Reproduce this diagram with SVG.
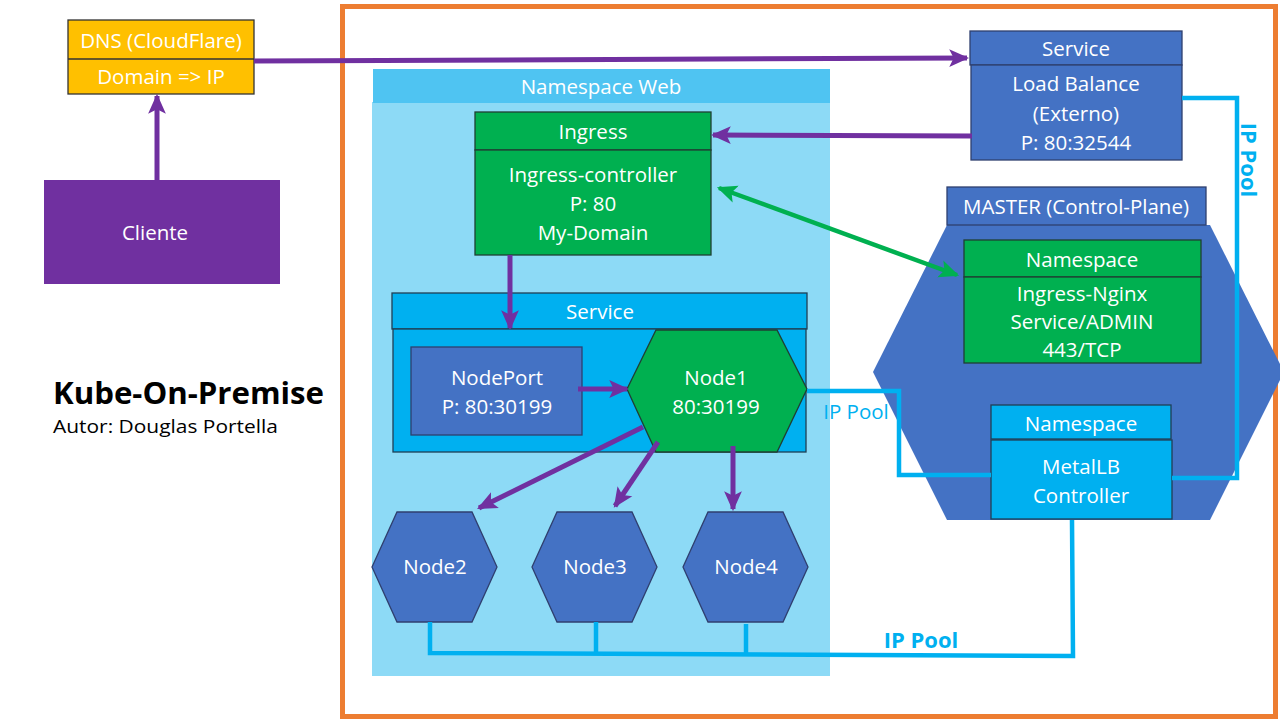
<svg xmlns="http://www.w3.org/2000/svg" width="1280" height="720" viewBox="0 0 1280 720">
<defs>
<style>
text{font-family:"Open Sans","Noto Sans","Liberation Sans",sans-serif;fill:#fff;font-size:20.5px;text-anchor:middle;dominant-baseline:central}
.blue{fill:#4472C4;stroke:#2F3F6F;stroke-width:1.3}
.green{fill:#00B050;stroke:#1F3F33;stroke-width:1.3}
.cyan{fill:#00B0F0;stroke:#1F3F55;stroke-width:1.3}
.pur{stroke:#7030A0;stroke-width:5;fill:none}
.cy{stroke:#00B0F0;stroke-width:4.5;fill:none}
.ipl{fill:#00B0F0;font-weight:bold;font-size:22px}
</style>
<marker id="ap" markerUnits="userSpaceOnUse" markerWidth="20" markerHeight="20" refX="16" refY="9" orient="auto-start-reverse" viewBox="0 0 18 18">
<path d="M0,1 L18,9 L0,17 L4,9 Z" fill="#7030A0"/>
</marker>
<marker id="ag" markerUnits="userSpaceOnUse" markerWidth="20" markerHeight="20" refX="16" refY="9" orient="auto-start-reverse" viewBox="0 0 18 18">
<path d="M0,1 L18,9 L0,17 L4,9 Z" fill="#00B050"/>
</marker>
</defs>
<rect width="1280" height="720" fill="#fff"/>

<g id="frame"><rect x="342.5" y="6.5" width="933" height="710" fill="none" stroke="#ED7D31" stroke-width="5"/></g>

<g id="title">
<text x="53" y="392" style="fill:#000;font-weight:bold;font-size:30px;text-anchor:start" textLength="271" lengthAdjust="spacingAndGlyphs">Kube-On-Premise</text>
<text x="53" y="426" style="fill:#000;font-size:18px;text-anchor:start" textLength="225" lengthAdjust="spacingAndGlyphs">Autor: Douglas Portella</text>
</g>

<g id="ns-web">
<rect x="372" y="102" width="458" height="574" fill="#8DDAF6"/>
<rect x="373" y="69" width="457" height="34" fill="#4FC4F2"/>
<text x="601" y="86">Namespace Web</text>
</g>

<g id="dns">
<rect x="68" y="20" width="186" height="74" fill="#FFC000" stroke="#333" stroke-width="1.3"/>
<line x1="68" y1="59" x2="254" y2="59" stroke="#333" stroke-width="1.3"/>
<text x="161" y="40">DNS (CloudFlare)</text>
<text x="161" y="76">Domain =&gt; IP</text>
</g>

<g id="cliente">
<rect x="44" y="180" width="236" height="104" fill="#7030A0"/>
<text x="155" y="232">Cliente</text>
</g>

<g id="service-lb">
<rect class="blue" x="970" y="31" width="212" height="34"/>
<rect class="blue" x="971" y="65" width="211" height="95"/>
<text x="1076" y="48">Service</text>
<text x="1076" y="83">Load Balance</text>
<text x="1076" y="113">(Externo)</text>
<text x="1076" y="142">P: 80:32544</text>
</g>

<g id="ingress">
<rect class="green" x="475" y="112" width="236" height="38"/>
<rect class="green" x="475" y="150" width="236" height="105"/>
<text x="593" y="131">Ingress</text>
<text x="593" y="174">Ingress-controller</text>
<text x="593" y="203">P: 80</text>
<text x="593" y="232">My-Domain</text>
</g>

<g id="master">
<polygon points="947,225 1210,225 1284,372 1210,520 947,520 873,372" fill="#4472C4"/>
<rect class="blue" x="947" y="187" width="259" height="38"/>
<text x="1076" y="206">MASTER (Control-Plane)</text>
</g>

<g id="ns-nginx">
<rect class="green" x="964" y="240" width="237" height="37"/>
<rect class="green" x="964" y="277" width="237" height="86"/>
<text x="1082" y="259">Namespace</text>
<text x="1082" y="293">Ingress-Nginx</text>
<text x="1082" y="321">Service/ADMIN</text>
<text x="1082" y="349">443/TCP</text>
</g>

<g id="ns-metallb">
<rect class="cyan" x="991" y="405" width="180" height="34"/>
<rect class="cyan" x="991" y="440" width="181" height="79"/>
<text x="1081" y="423">Namespace</text>
<text x="1081" y="466">MetalLB</text>
<text x="1081" y="495">Controller</text>
</g>

<g id="service">
<rect class="cyan" x="392" y="293" width="415" height="36"/>
<rect class="cyan" x="393" y="329" width="413" height="123"/>
<text x="600" y="311">Service</text>
</g>

<g id="nodeport">
<rect class="blue" x="411" y="347" width="171" height="88"/>
<text x="497" y="377">NodePort</text>
<text x="497" y="406">P: 80:30199</text>
</g>

<g id="node1">
<polygon class="green" points="656,330 777,330 807,389 777,452 656,452 627,389"/>
<text x="716" y="377">Node1</text>
<text x="716" y="406">80:30199</text>
</g>

<g id="node2">
<polygon class="blue" points="372,567 397,512 472,512 497,567 472,622 397,622"/>
<text x="435" y="566">Node2</text>
</g>
<g id="node3">
<polygon class="blue" points="532,567 557,512 632,512 657,567 632,622 557,622"/>
<text x="595" y="566">Node3</text>
</g>
<g id="node4">
<polygon class="blue" points="683,567 708,512 783,512 808,567 783,622 708,622"/>
<text x="746" y="566">Node4</text>
</g>

<g id="connectors">
<line class="pur" x1="157" y1="180" x2="157" y2="96" marker-end="url(#ap)"/>
<line class="pur" x1="254" y1="61" x2="967" y2="58" marker-end="url(#ap)"/>
<line class="pur" x1="972" y1="136" x2="713" y2="135" marker-end="url(#ap)"/>
<line class="pur" x1="510" y1="255" x2="510" y2="328" marker-end="url(#ap)"/>
<line class="pur" x1="578" y1="389" x2="627" y2="389" marker-end="url(#ap)"/>
<line class="pur" x1="643" y1="427" x2="479" y2="508" marker-end="url(#ap)"/>
<line class="pur" x1="658" y1="442" x2="615" y2="506" marker-end="url(#ap)"/>
<line class="pur" x1="733" y1="446" x2="733" y2="509" marker-end="url(#ap)"/>
<line x1="719" y1="188" x2="957" y2="275" stroke="#00B050" stroke-width="4.5" marker-start="url(#ag)" marker-end="url(#ag)"/>
<polyline class="cy" points="1182,98 1237,98 1237,478 1172,478"/>
<polyline class="cy" points="807,391 899,391 899,475 991,475"/>
<polyline class="cy" points="430,622 430,653 1073,656 1072,520"/>
<line class="cy" x1="596" y1="622" x2="596" y2="654"/>
<line class="cy" x1="746" y1="624" x2="746" y2="655"/>
<text class="ipl" x="1250" y="160" transform="rotate(90 1250 160)">IP Pool</text>
<text x="856" y="411" style="fill:#00B0F0">IP Pool</text>
<text class="ipl" x="921" y="639">IP Pool</text>
</g>
</svg>
